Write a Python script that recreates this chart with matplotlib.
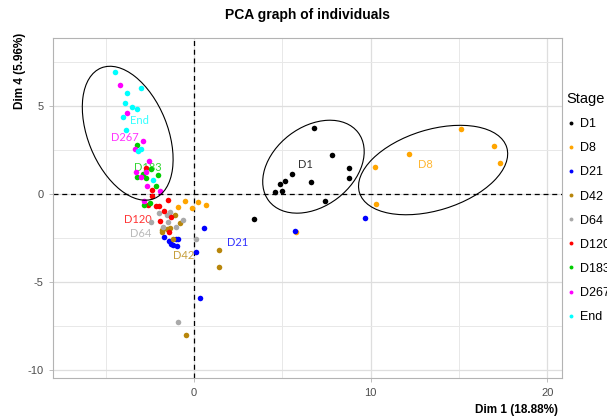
import matplotlib
matplotlib.use("Agg")
import matplotlib.pyplot as plt
from matplotlib.patches import Ellipse
from matplotlib.lines import Line2D

plt.rcParams["axes.unicode_minus"] = False

# groups, in drawing order
stages = ["D1", "D8", "D21", "D42", "D64", "D120", "D183", "D267", "End"]
colors = ["black", "#FFA500", "#0000FF", "#B8860B", "#A9A9A9", "#FF0000", "#00CD00", "#FF00FF", "#00FFFF"]

d1_x = [6.81, 7.83, 8.79, 8.79, 5.56, 5.17, 4.85, 6.60, 4.60, 5.00, 7.43, 3.41]
d1_y = [3.73, 2.20, 1.46, 0.91, 1.12, 0.74, 0.57, 0.68, 0.11, 0.17, -0.40, -1.44]
d8_x = [10.24, 10.30, 12.18, 15.11, 16.99, 17.33, 5.79, -0.53, 0.24, 0.70, -0.89, -0.10]
d8_y = [1.52, -0.57, 2.27, 3.69, 2.71, 1.74, -2.18, -0.40, -0.47, -0.64, -0.74, -0.81]
d21_x = [9.68, 5.73, 0.58, -1.68, -1.40, -1.30, -1.17, -1.02, -0.92, -0.98, 0.13, 0.36]
d21_y = [-1.36, -2.12, -1.95, -2.44, -2.69, -2.86, -2.90, -2.57, -2.57, -2.97, -3.31, -5.89]
d42_x = [-1.06, -0.79, -1.83, -1.79, -1.34, -1.54, -1.21, 1.43, 1.43, -0.44]
d42_y = [-1.21, -1.63, -2.05, -2.18, -1.95, -2.01, -2.56, -3.20, -4.16, -8.03]
d64_x = [-1.36, -1.96, -1.53, -2.45, -1.49, -1.74, -0.61, -1.00, 0.10, -0.89]
d64_y = [-1.01, -1.06, -1.21, -1.61, -1.61, -1.86, -1.49, -1.88, -2.56, -7.29]
d120_x = [-2.70, -2.36, -2.36, -2.59, -2.15, -1.96, -1.45, -1.68, -1.32, -1.91, -1.40]
d120_y = [1.48, 0.24, -0.11, -0.64, -0.68, -0.68, -0.36, -0.97, -1.29, -1.53, -2.14]
d183_x = [-3.21, -2.45, -2.90, -2.04, -3.24, -2.72, -2.15, -2.81, -2.49]
d183_y = [2.77, 1.42, 1.12, 1.08, 0.97, 0.91, 0.45, -0.64, -0.53]
d267_x = [-4.17, -3.77, -2.87, -3.32, -2.53, -3.28, -2.98, -2.72, -2.64, -1.92, -2.83]
d267_y = [6.19, 4.62, 3.01, 2.54, 1.86, 1.23, 0.97, 1.23, 0.45, 0.19, -0.40]
end_x = [-4.45, -2.98, -3.77, -3.89, -3.49, -3.24, -4.00, -3.83, -2.98, -3.15, -2.32]
end_y = [6.91, 6.01, 5.72, 5.15, 4.96, 4.81, 4.36, 3.62, 2.57, 2.43, 0.80]

xs = [d1_x, d8_x, d21_x, d42_x, d64_x, d120_x, d183_x, d267_x, end_x]
ys = [d1_y, d8_y, d21_y, d42_y, d64_y, d120_y, d183_y, d267_y, end_y]

# group label positions
label_x = [6.28, 13.11, 2.45, -0.61, -3.04, -3.19, -2.59, -3.89, -3.11]
label_y = [1.65, 1.70, -2.73, -3.52, -2.27, -1.44, 1.48, 3.22, 4.20]

# confidence ellipses (D1, D8, End)
ell_x = [6.76, 13.53, -3.75]
ell_y = [1.55, 1.36, 3.45]
ell_w = [6.37, 8.72, 8.0]
ell_h = [4.5, 4.58, 4.5]
ell_angle = [37.7, 17.2, 112.0]

fig = plt.figure(figsize=(6.07, 4.19), dpi=100)
ax = fig.add_axes([53.3 / 607, 1 - 378 / 419, (562.3 - 53.3) / 607, (378 - 38.5) / 419])
ax.set_xlim(-7.96, 20.84)
ax.set_ylim(-10.45, 8.83)

ax.set_xticks([0, 10, 20])
ax.set_yticks([-10, -5, 0, 5])
ax.set_xticks([-5, 5, 15], minor=True)
ax.set_yticks([-7.5, -2.5, 2.5, 7.5], minor=True)
ax.grid(which="major", color="#DEDEDE", lw=0.9)
ax.grid(which="minor", color="#E8E8E8", lw=0.7)
ax.set_axisbelow(True)
ax.tick_params(which="major", length=3, width=0.6, color="#B3B3B3", labelcolor="#4D4D4D",
               labelsize=8, pad=4)
ax.tick_params(which="minor", length=0)
for lab in ax.get_xticklabels() + ax.get_yticklabels():
    lab.set_family("Liberation Sans")
for sp in ax.spines.values():
    sp.set_color("#B3B3B3")
    sp.set_linewidth(0.8)

ax.axhline(0, color="black", ls=(0, (4, 3)), lw=0.9, zorder=1)
ax.axvline(0, color="black", ls=(0, (4, 3)), lw=0.9, zorder=1)

for i in range(len(stages)):
    ax.text(label_x[i], label_y[i], stages[i], color=colors[i], alpha=0.8, fontsize=8,
            family="Lato", ha="center", va="center", zorder=2)

for i in range(len(stages)):
    ax.scatter(xs[i], ys[i], s=16, color=colors[i], linewidths=0, zorder=3)

for cx, cy, w, h, a in zip(ell_x, ell_y, ell_w, ell_h, ell_angle):
    ax.add_patch(Ellipse((cx, cy), w, h, angle=a, fill=False, ec="black", lw=0.8, zorder=4))

fig.text(307.5 / 607, 1 - 15 / 419, "PCA graph of individuals", ha="center", va="center",
         fontsize=10, fontweight="bold", family="Liberation Sans")
fig.text(20 / 607, 1 - 33 / 419, "Dim 4 (5.96%)", rotation=90, ha="center", va="top",
         fontsize=8.5, fontweight="bold", family="Liberation Sans")
fig.text(558 / 607, 1 - 410 / 419, "Dim 1 (18.88%)", ha="right", va="center",
         fontsize=8.5, fontweight="bold", family="Liberation Sans")

handles = [Line2D([], [], ls="", marker="o", markersize=2.8, color=c, markeredgewidth=0) for c in colors]
leg = fig.legend(handles, stages, title="Stage", loc="upper left",
                 bbox_to_anchor=(566 / 607, 1 - 92 / 419), frameon=False,
                 prop={"family": "Liberation Sans", "size": 9},
                 title_fontproperties={"family": "Liberation Sans", "size": 10.5},
                 labelspacing=0.97, handlelength=0.8, handletextpad=0.35,
                 borderpad=0, borderaxespad=0)
leg._legend_box.align = "left"

fig.savefig("out.png", dpi=100)
